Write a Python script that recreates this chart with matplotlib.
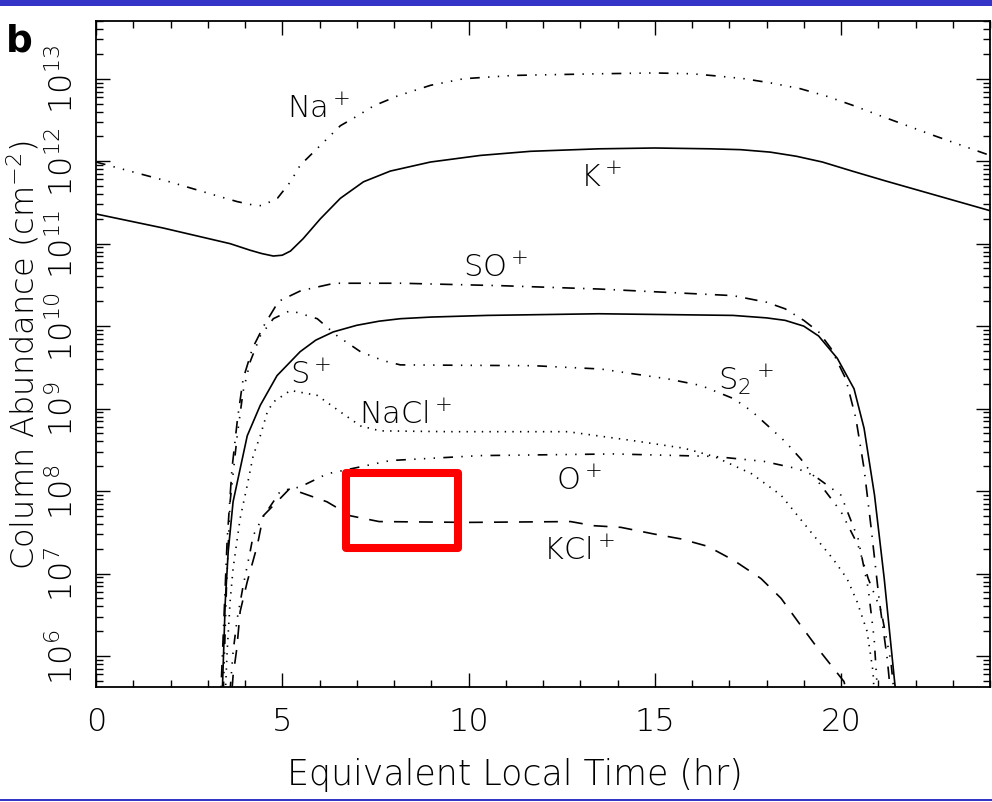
import numpy as np
import matplotlib
matplotlib.use("Agg")
import matplotlib.pyplot as plt
from matplotlib.patches import Rectangle
from matplotlib.ticker import MultipleLocator, LogLocator, NullFormatter, FuncFormatter

plt.rcParams['font.family'] = ['DejaVu Sans']
plt.rcParams['font.weight'] = 200
plt.rcParams['axes.labelweight'] = 200
plt.rcParams['mathtext.fontset'] = 'custom'
plt.rcParams['mathtext.rm'] = 'DejaVu Sans:extralight'
plt.rcParams['mathtext.it'] = 'DejaVu Sans:extralight'
plt.rcParams['mathtext.default'] = 'regular'
plt.rcParams['lines.scale_dashes'] = False

# column abundances, log10(cm^-2) vs equivalent local time (hr)
t_na = [0, 1.9, 3.25, 3.79, 4.2, 4.45, 4.87, 5.22, 5.48, 5.75, 6.02, 6.29, 6.56, 7.02, 7.45,
        8.09, 8.98, 9.87, 11.2, 13.5, 15.0, 16.0, 16.75, 17.4, 18.1, 18.9, 19.6, 20.3, 21.0,
        22.5, 24.0]
na = [11.99, 11.76, 11.58, 11.51, 11.47, 11.46, 11.55, 11.75, 11.95, 12.07, 12.19, 12.31, 12.43,
      12.55, 12.67, 12.79, 12.92, 13.0, 13.04, 13.06, 13.07, 13.06, 13.03, 13.0, 12.95, 12.88,
      12.79, 12.68, 12.56, 12.31, 12.07]

t_k = [0, 1.8, 3.6, 4.14, 4.45, 4.76, 5.0, 5.22, 5.56, 6.02, 6.56, 7.18, 7.9, 8.98, 10.32, 11.67,
       13.5, 15.0, 16.5, 17.3, 18.1, 18.8, 19.5, 20.3, 21.2, 22.6, 24.0]
k = [11.36, 11.19, 11.0, 10.92, 10.88, 10.85, 10.86, 10.91, 11.06, 11.30, 11.55, 11.75, 11.88,
     11.99, 12.07, 12.12, 12.15, 12.16, 12.15, 12.14, 12.11, 12.06, 11.99, 11.88, 11.76, 11.58,
     11.40]

t_so = [3.3, 3.42, 3.52, 3.65, 3.8, 3.95, 4.2, 4.5, 4.9, 5.5, 6.4, 8.2, 10.9, 13.5, 17.1, 18.0,
        18.5, 19.0, 19.4, 19.73, 20.13, 20.4, 20.62, 20.81, 21.02, 21.24, 21.45]
so = [5.0, 6.3, 7.4, 8.27, 8.88, 9.36, 9.73, 10.0, 10.30, 10.43, 10.52, 10.52, 10.49, 10.45,
      10.37, 10.29, 10.21, 10.07, 9.93, 9.73, 9.36, 8.88, 8.27, 7.55, 6.70, 5.97, 5.0]

t_s = [3.35, 3.47, 3.55, 3.68, 3.87, 4.06, 4.41, 4.86, 5.48, 5.9, 6.37, 7.0, 7.6, 8.17, 9.0,
       10.5, 13.5, 17.1, 18.0, 18.5, 19.0, 19.4, 19.9, 20.35, 20.62, 20.9, 21.16, 21.43, 21.6]
s = [5.0, 6.66, 7.27, 7.87, 8.27, 8.67, 9.04, 9.40, 9.69, 9.83, 9.93, 10.01, 10.06, 10.09, 10.11,
     10.13, 10.15, 10.13, 10.10, 10.07, 10.0, 9.88, 9.61, 9.24, 8.76, 7.95, 6.94, 5.73, 5.0]

t_s2 = [3.38, 3.5, 3.6, 3.79, 3.95, 4.14, 4.41, 4.76, 5.22, 5.94, 6.48, 7.1, 7.72, 8.17, 11.75,
        13.55, 15.35, 16.24, 17.12, 17.6, 18.04, 18.5, 18.92, 19.46, 20.0, 20.46, 20.73, 21.08,
        21.34, 21.55]
s2 = [5.0, 6.8, 7.87, 8.67, 9.21, 9.57, 9.88, 10.09, 10.19, 10.09, 9.88, 9.69, 9.58, 9.53, 9.52,
      9.48, 9.36, 9.28, 9.12, 8.97, 8.79, 8.60, 8.39, 8.07, 7.75, 7.34, 6.94, 6.54, 5.93, 5.0]

t_nacl = [3.42, 3.52, 3.6, 3.68, 3.87, 4.06, 4.22, 4.41, 4.6, 4.76, 5.22, 5.94, 6.56, 7.1, 7.63,
          9.5, 12.66, 14.44, 15.78, 16.59, 17.6, 18.39, 19.27, 19.78, 20.16, 20.43, 20.7, 20.86,
          20.95]
nacl = [5.0, 6.05, 6.66, 7.06, 7.67, 8.07, 8.43, 8.67, 8.96, 9.08, 9.22, 9.16, 8.96, 8.79, 8.73,
        8.72, 8.72, 8.61, 8.52, 8.42, 8.21, 7.95, 7.46, 7.18, 6.94, 6.66, 6.30, 5.81, 5.0]

t_o = [3.5, 3.68, 3.79, 3.95, 4.14, 4.22, 4.46, 4.76, 4.95, 5.48, 6.21, 6.64, 7.9, 10.32, 13.9,
       16.59, 17.93, 18.84, 19.27, 20.0, 20.46, 20.73, 20.89, 20.97, 21.05]
o = [5.0, 6.05, 6.45, 6.85, 7.27, 7.46, 7.67, 7.87, 8.0, 8.05, 8.21, 8.25, 8.37, 8.43, 8.45,
     8.42, 8.36, 8.27, 8.19, 7.95, 7.42, 6.82, 6.21, 5.63, 5.0]

t_kcl = [3.55, 3.68, 3.78, 3.87, 4.06, 4.33, 4.49, 5.03, 5.2, 6.2, 6.5, 6.83, 7.6, 10.0, 12.74,
         13.36, 14.09, 14.97, 15.7, 16.42, 17.12, 17.85, 18.39, 18.92, 19.38, 19.8, 20.08, 20.3]
kcl = [5.0, 5.76, 6.09, 6.54, 6.90, 7.34, 7.70, 7.95, 8.03, 7.87, 7.79, 7.70, 7.63, 7.62, 7.63,
       7.58, 7.56, 7.48, 7.42, 7.33, 7.16, 6.94, 6.70, 6.37, 6.09, 5.85, 5.69, 5.3]

names = ['Na$^+$', 'K$^+$', 'SO$^+$', 'S$^+$', 'S$_2$$^+$', 'NaCl$^+$', 'O$^+$', 'KCl$^+$']
times = [t_na, t_k, t_so, t_s, t_s2, t_nacl, t_o, t_kcl]
logs = [na, k, so, s, s2, nacl, o, kcl]

# IDL-like line styles
dash3dot = (0, (7, 6, 1, 6, 1, 6, 1, 6))
dashdot = (0, (9, 6, 1, 6))
styles = [dash3dot, '-', dashdot, '-', dash3dot, (0, (1, 4.5)), dash3dot, (0, (10, 8))]
label_pos = [(5.97, 12.64), (13.55, 11.81), (10.73, 10.72), (5.75, 9.42),
             (17.45, 9.36), (8.3, 8.94), (12.96, 8.13), (12.96, 7.28)]

fig = plt.figure(figsize=(9.92, 8.03), dpi=100)
ax = fig.add_axes([96 / 992, 1 - 688 / 803, (990 - 96) / 992, (688 - 22) / 803])

for tt, lv, ls in zip(times, logs, styles):
    ax.plot(tt, 10 ** np.array(lv), color='black', lw=1.2, linestyle=ls)

for name, (xp, yp) in zip(names, label_pos):
    ax.text(xp, 10 ** yp, name, fontsize=22, ha='center', va='center')

ax.set_yscale('log')
ax.set_xlim(0, 24)
ax.set_ylim(10 ** 5.624, 10 ** 13.70)
ax.xaxis.set_major_locator(MultipleLocator(5))
ax.xaxis.set_minor_locator(MultipleLocator(1))
ax.set_yticks([10.0 ** e for e in range(6, 14)])
ax.yaxis.set_minor_locator(LogLocator(base=10, subs=np.arange(2, 10)))
ax.yaxis.set_minor_formatter(NullFormatter())
ax.yaxis.set_major_formatter(FuncFormatter(lambda v, p: r'10$^{%d}$' % round(np.log10(v))))

ax.tick_params(which='both', direction='in', top=True, right=True, width=1)
ax.tick_params(which='major', length=10, labelsize=23)
ax.tick_params(which='minor', length=5)
ax.tick_params(axis='x', pad=14)
ax.tick_params(axis='y', pad=12, labelrotation=90)
plt.setp(ax.get_yticklabels(), va='center')
for sp in ax.spines.values():
    sp.set_linewidth(1.3)

ax.set_xlabel('Equivalent Local Time (hr)', fontsize=25)
ax.xaxis.set_label_coords(0.469, -0.105)
ax.set_ylabel('Column Abundance (cm$^{-2}$)', fontsize=23)
ax.yaxis.set_label_coords(-0.062, 0.5)

# highlight box
ax.add_patch(Rectangle((6.71, 10 ** 7.315), 9.72 - 6.71, 10 ** 8.218 - 10 ** 7.315,
                       fill=False, ec='#ff0000', lw=5.8, joinstyle='round', zorder=5))

fig.text(0.006, 1 - 52 / 803, 'b', fontsize=27, fontweight='bold', ha='left', va='baseline')
fig.add_artist(Rectangle((0, 1 - 7 / 803), 1, 7 / 803, transform=fig.transFigure,
                         color='#3434c8', lw=0))
fig.add_artist(Rectangle((0, 1 / 803), 1, 2 / 803, transform=fig.transFigure,
                         color='#3434c8', lw=0))

fig.savefig('out.png', dpi=100)
